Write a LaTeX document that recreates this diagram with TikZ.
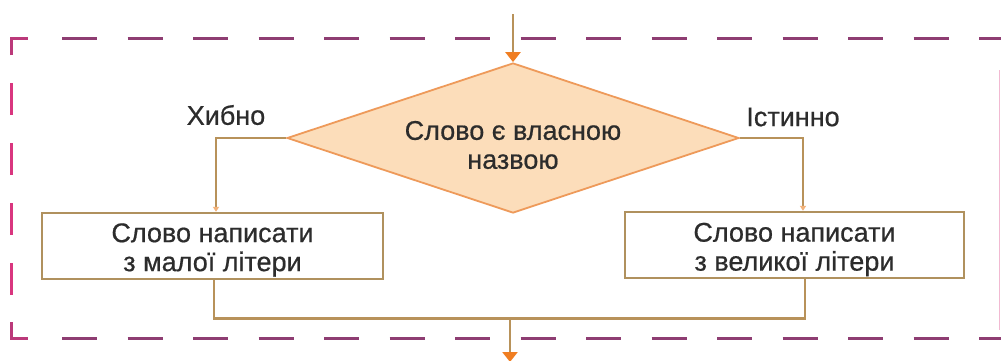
\documentclass[tikz,border=0pt]{standalone}
\usepackage{fontspec}
\setmainfont{Liberation Sans}
\newfontfamily\medfont{Liberation Sans}[RawFeature={embolden=0.6}]
\usetikzlibrary{shapes.geometric,arrows.meta}
\definecolor{linec}{HTML}{B8925A}
\definecolor{boxc}{HTML}{B0915E}
\definecolor{tipc}{HTML}{F07E22}
\definecolor{tiplight}{HTML}{F3B27A}
\definecolor{dfill}{HTML}{FCDDBA}
\definecolor{dline}{HTML}{EE9A5A}
\definecolor{dashc}{HTML}{8E3D72}
\definecolor{pinkc}{HTML}{D9367F}
\definecolor{txtc}{HTML}{2C2C2C}
\begin{document}
\begin{tikzpicture}[x=1pt,y=-1pt,
  conn/.style={draw=linec,line width=2.4pt},
  procbox/.style={draw=boxc,line width=2.4pt,fill=white,inner sep=0pt,
    minimum height=66pt},
  boxtxt/.style={align=center,text=txtc,inner sep=0pt,
    font=\medfont\fontsize{27}{29}\selectfont},
  decbox/.style={diamond,draw=dline,fill=dfill,line width=1.8pt,inner sep=0pt,
    minimum width=452pt,minimum height=150pt},
  lbl/.style={text=txtc,font=\medfont\fontsize{27}{29}\selectfont,inner sep=0pt},
  bigtip/.style={-{Triangle[length=10pt,width=15pt,color=tipc]}},
  smalltip/.style={-{Triangle[length=5pt,width=6pt,color=tiplight]}},
  frameh/.style={draw=dashc,line width=3pt,dash pattern=on 35pt off 30.5pt},
  framev/.style={draw=pinkc,line width=3pt,dash pattern=on 32pt off 28pt},
  framecorner/.style={draw=pinkc!60!dashc,line width=3pt}
]
\useasboundingbox (0,0) rectangle (1001,360);
\fill[white] (0,0) rectangle (1001,360);

% dashed frame
\draw[frameh] (62,38.5) -- (1001,38.5);
\draw[frameh] (62,338.5) -- (1001,338.5);
\draw[framev] (11.5,83) -- (11.5,300);
\draw[framecorner] (11.5,55) -- (11.5,38.5) -- (28,38.5);
\draw[framecorner] (11.5,322) -- (11.5,338.5) -- (28,338.5);
\draw[draw=pinkc!35,line width=1.5pt] (999.5,70) -- (999.5,330);

% nodes
\node[decbox] (dec) at (513,138) {};
\node[boxtxt] (dectext) at (513,145) {Слово є власною\\назвою};
\node[procbox,minimum width=341pt] (lbox) at (212.5,246) {};
\node[boxtxt] (ltext) at (212.5,250) {Слово написати\\з малої літери};
\node[procbox,minimum width=339pt] (rbox) at (794.5,245) {};
\node[boxtxt] (rtext) at (794.5,249.5) {Слово написати\\з великої літери};
\node[lbl] (flabel) at (226,115) {Хибно};
\node[lbl] (tlabel) at (793,117) {Істинно};

\coordinate (in) at (513,14);
\coordinate (bl) at (214,318.5);
\coordinate (br) at (805,318.5);
\coordinate (j) at (510,318.5);
\coordinate (out) at (510,362);

% connectors
\draw[conn,bigtip] (in) -- (dec.north);
\draw[conn,smalltip] (dec.west) -| ([xshift=3.5pt]lbox.north);
\draw[conn,smalltip] (dec.east) -| ([xshift=8.5pt]rbox.north);
\draw[conn] ([xshift=1.5pt]lbox.south) -- (bl) -- (br) -- ([xshift=10.5pt]rbox.south);
\draw[conn,bigtip] (j) -- (out);
\end{tikzpicture}
\end{document}
